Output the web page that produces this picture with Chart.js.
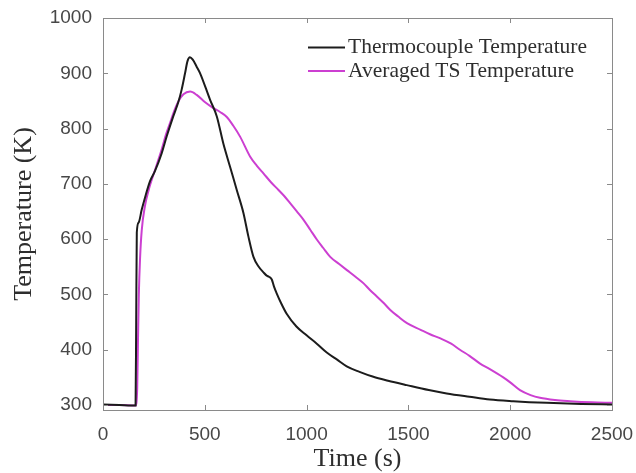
<!DOCTYPE html>
<html>
<head>
<meta charset="utf-8">
<title>Thermocouple vs TS temperature</title>
<script src="https://cdn.jsdelivr.net/npm/chart.js@4.4.1/dist/chart.umd.min.js"></script>
<style>
  html, body { margin: 0; padding: 0; background: #ffffff; }
  canvas { display: block; }
</style>
</head>
<body>
<canvas id="tempChart" width="636" height="473"></canvas>
<script>
// --- data ---
const thermoTime = [0, 80, 160, 163, 166, 175, 190, 210, 231, 255, 288, 313, 345, 370, 386, 403, 415, 427, 440, 460, 477, 526, 559, 591, 624, 657, 690, 714, 739, 765, 788, 804, 815, 829, 840, 853, 875, 902, 950, 1000, 1050, 1099, 1150, 1197, 1260, 1328, 1400, 1492, 1600, 1688, 1800, 1900, 2015, 2179, 2350, 2500];
const thermoTemp = [301, 300, 299, 450, 612, 630, 653, 680, 705, 723, 755, 786, 822, 848, 870, 900, 922, 929, 925, 912, 900, 852, 822, 773, 731, 689, 647, 605, 568, 550, 540, 534, 532, 527, 514, 502, 484, 465, 442, 426, 411, 395, 382, 370, 360, 351, 344, 336, 327, 321, 315, 310, 307, 304, 302, 301];

const tsTime = [0, 80, 160, 168, 172, 176, 182, 190, 206, 225, 239, 260, 288, 310, 329, 350, 370, 395, 428, 460, 500, 542, 575, 608, 640, 674, 723, 755, 788, 825, 862, 890, 919, 950, 985, 1018, 1051, 1082, 1116, 1160, 1198, 1240, 1280, 1311, 1346, 1380, 1411, 1450, 1493, 1560, 1606, 1660, 1710, 1753, 1800, 1852, 1900, 1966, 2000, 2048, 2100, 2146, 2220, 2294, 2400, 2500];
const tsTemp = [300, 300, 299, 330, 420, 500, 565, 615, 660, 690, 707, 730, 762, 790, 810, 832, 849, 862, 867, 861, 848, 837, 830, 821, 805, 785, 749, 733, 719, 703, 689, 678, 665, 651, 635, 617, 599, 584, 568, 555, 544, 532, 520, 508, 496, 484, 472, 460, 448, 436, 428, 420, 411, 400, 389, 375, 365, 350, 341, 327, 318, 313, 309, 307, 305, 304];

const seriesLabels = ['Thermocouple Temperature', 'Averaged TS Temperature'];
const xTicks = [0, 500, 1000, 1500, 2000, 2500];
const yTicks = [300, 400, 500, 600, 700, 800, 900, 1000];

const lineColors = ['#1c1c1c', '#cc3fd1'];
const axisColor = '#8a8a8a';
const tickLabelColor = '#474747';
const serif = "'Liberation Serif', 'DejaVu Serif', serif";

function toPoints(xs, ys) {
    return xs.map((x, i) => ({ x: x, y: ys[i] }));
}

// box + inward ticks (matlab look) and legend in the upper right
const boxPlugin = {
    id: 'boxPlugin',
    afterDraw(chart) {
        const ctx = chart.ctx;
        const area = chart.chartArea;
        const xs = chart.scales.x;
        const ys = chart.scales.y;
        const tl = 5;

        ctx.save();
        ctx.strokeStyle = axisColor;
        ctx.lineWidth = 1;
        ctx.strokeRect(Math.round(area.left) + 0.5, Math.round(area.top) + 0.5,
            Math.round(area.right - area.left), Math.round(area.bottom - area.top));

        ctx.beginPath();
        xs.ticks.forEach(t => {
            const px = Math.round(xs.getPixelForValue(t.value)) + 0.5;
            ctx.moveTo(px, area.bottom);
            ctx.lineTo(px, area.bottom - tl);
            ctx.moveTo(px, area.top);
            ctx.lineTo(px, area.top + tl);
        });
        ys.ticks.forEach(t => {
            const py = Math.round(ys.getPixelForValue(t.value)) + 0.5;
            ctx.moveTo(area.left, py);
            ctx.lineTo(area.left + tl, py);
            ctx.moveTo(area.right, py);
            ctx.lineTo(area.right - tl, py);
        });
        ctx.stroke();

        // legend
        const lx = area.right - 304;
        const ly = area.top + 29.5;
        chart.data.datasets.forEach((ds, i) => {
            const y = ly + i * 23.5;
            ctx.strokeStyle = ds.borderColor;
            ctx.lineWidth = 2;
            ctx.beginPath();
            ctx.moveTo(lx, y);
            ctx.lineTo(lx + 37, y);
            ctx.stroke();
            ctx.fillStyle = '#2e2e2e';
            ctx.font = "21.5px " + serif;
            ctx.textBaseline = 'middle';
            ctx.textAlign = 'left';
            ctx.fillText(ds.label, lx + 40, y);
        });
        ctx.restore();
    }
};

new Chart(document.getElementById('tempChart'), {
    type: 'line',
    data: {
        datasets: [
            {
                label: seriesLabels[0],
                data: toPoints(thermoTime, thermoTemp),
                borderColor: lineColors[0],
                borderWidth: 2,
                pointRadius: 0,
                cubicInterpolationMode: 'monotone',
                fill: false
            },
            {
                label: seriesLabels[1],
                data: toPoints(tsTime, tsTemp),
                borderColor: lineColors[1],
                borderWidth: 2,
                pointRadius: 0,
                cubicInterpolationMode: 'monotone',
                fill: false
            }
        ]
    },
    options: {
        responsive: false,
        animation: false,
        devicePixelRatio: 1,
        layout: { padding: { left: 0, right: 24, top: 18, bottom: 0 } },
        plugins: {
            legend: { display: false },
            tooltip: { enabled: false }
        },
        scales: {
            x: {
                type: 'linear',
                min: 0,
                max: 2500,
                afterBuildTicks: scale => { scale.ticks = xTicks.map(v => ({ value: v })); },
                afterFit: scale => {
                    scale.height = 63;
                    scale.paddingLeft = 0;
                    scale.paddingRight = 0;
                },
                grid: { display: false, drawTicks: false },
                border: { display: false },
                ticks: {
                    padding: 13,
                    color: tickLabelColor,
                    font: { family: "'Liberation Sans', Arial, sans-serif", size: 19 },
                    callback: v => String(v)
                },
                title: {
                    display: true,
                    text: 'Time (s)',
                    color: '#2e2e2e',
                    font: { family: serif, size: 26, lineHeight: 1 },
                    padding: { top: 0, bottom: 1 }
                }
            },
            y: {
                type: 'linear',
                min: 291,
                max: 1000,
                afterBuildTicks: scale => { scale.ticks = yTicks.map(v => ({ value: v })); },
                afterFit: scale => {
                    scale.width = 103;
                    scale.paddingTop = 0;
                    scale.paddingBottom = 0;
                },
                grid: { display: false, drawTicks: false },
                border: { display: false },
                ticks: {
                    padding: 11,
                    color: tickLabelColor,
                    font: { family: "'Liberation Sans', Arial, sans-serif", size: 19 },
                    callback: v => String(v)
                },
                title: {
                    display: true,
                    text: 'Temperature (K)',
                    color: '#2e2e2e',
                    font: { family: serif, size: 26, lineHeight: 1 },
                    padding: { top: 11, bottom: 0 }
                }
            }
        }
    },
    plugins: [boxPlugin]
});
</script>
</body>
</html>
